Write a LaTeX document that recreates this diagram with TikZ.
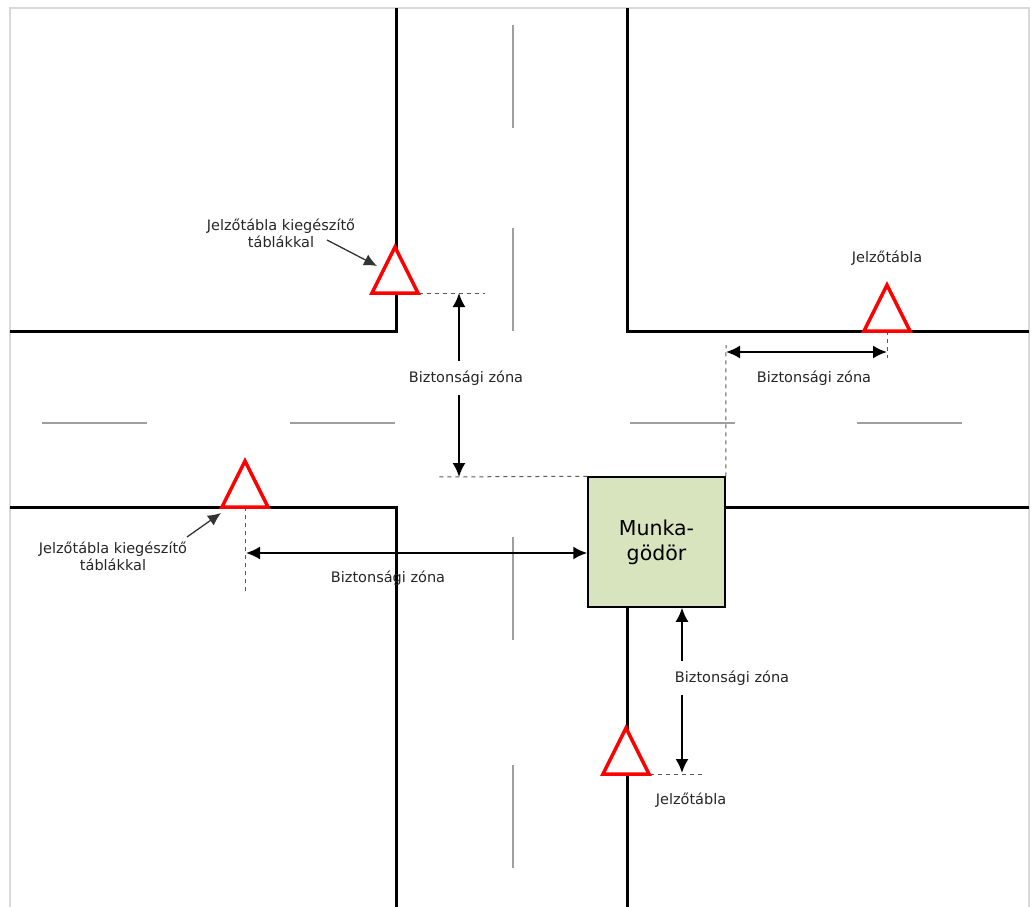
\documentclass[tikz,border=0pt]{standalone}
\usepackage{fontspec}
\setmainfont{DejaVu Sans}
\usetikzlibrary{arrows.meta}
\definecolor{pitgreen}{RGB}{215,228,189}

\begin{document}
\begin{tikzpicture}[x=1pt,y=-1pt,
  road/.style={line width=3pt},
  lane/.style={line width=1.5pt, gray!75},
  sign/.style={draw=red, line width=3.5pt, fill=white},
  guide/.style={gray!70!black, line width=1pt, dash pattern=on 4pt off 4pt},
  zone/.style={<->, line width=2pt, >={Latex[length=14pt,width=13pt]}},
  pointer/.style={->, line width=1.3pt, black!80, >={Latex[length=13pt,width=12pt]}},
  lbl/.style={font=\fontsize{14.5}{17}\selectfont, text=black!85, align=center}]
\useasboundingbox (0,0) rectangle (1031,907);
% frame
\draw [gray!30, line width=1.5pt] (10,907) -- (10,8) -- (1029,8) -- (1029,907);
% road edges
\draw [road] (10,331) -- (396,331) -- (396,8);
\draw [road] (627,8) -- (627,331) -- (1029,331);
\draw [road] (10,507) -- (396,507) -- (396,907);
\draw [road] (725,507) -- (1029,507);
\draw [road] (627,607) -- (627,907);
% lane markings
\foreach \y in {25,228,537,765} \draw [lane] (513,\y) -- (513,\y+103);
\foreach \x in {42,290,630,857} \draw [lane] (\x,423) -- (\x+105,423);

% work pit
\node [draw, line width=1.5pt, fill=pitgreen, minimum width=137pt, minimum height=130pt,
  font=\fontsize{20.5}{25}\selectfont, align=center] (pit) at (656.5,542) {Munka-\\gödör};

% signs
\coordinate (s1) at (395,293);
\coordinate (s2) at (887,331);
\coordinate (s3) at (245,507);
\coordinate (s4) at (626,774);

% guides
\draw [guide] (s1) -- (485,293);
\draw [guide] (s2) -- (887,358);
\draw [guide] (s3) -- (245,592);
\draw [guide] (s4) -- (703,774);
\draw [guide] (pit.north west) -- (438,477);
\draw [guide] (pit.north east) -- (726,345);

\foreach \s in {s1,s2,s3,s4}
  \draw [sign] (\s) ++(-23,0) -- ++(23,-46) -- ++(23,46) -- cycle;

% safety zones
\coordinate (z1) at (459,477);
\coordinate (z2) at (726,352);
\coordinate (z3) at (246,553);
\coordinate (z4) at (682,773);
\draw [zone] (z1 |- s1) -- (z1);
\draw [zone] (z2) -- (z2 -| s2);
\draw [zone] (z3) -- (z3 -| pit.west);
\draw [zone] (z4 |- pit.south) -- (z4);
\node [lbl, fill=white, inner xsep=2pt, inner ysep=10pt] (zl1) at (466,378) {Biztonsági zóna};
\node [lbl] (zl2) at (814,378) {Biztonsági zóna};
\node [lbl] (zl3) at (388,578) {Biztonsági zóna};
\node [lbl, fill=white, inner xsep=2pt, inner ysep=10pt] (zl4) at (732,678) {Biztonsági zóna};

% sign labels
\node [lbl] (l1) at (281,233) {Jelzőtábla kiegészítő\\táblákkal};
\node [lbl] (l3) at (113,556) {Jelzőtábla kiegészítő\\táblákkal};
\node [lbl] (l2) at (887,258) {Jelzőtábla};
\node [lbl] (l4) at (691,800) {Jelzőtábla};
\coordinate (p1) at (327,240);
\coordinate (p3) at (187,537);
\draw [pointer] (p1) -- (377,266);
\draw [pointer] (p3) -- (221,513);

\end{tikzpicture}
\end{document}
